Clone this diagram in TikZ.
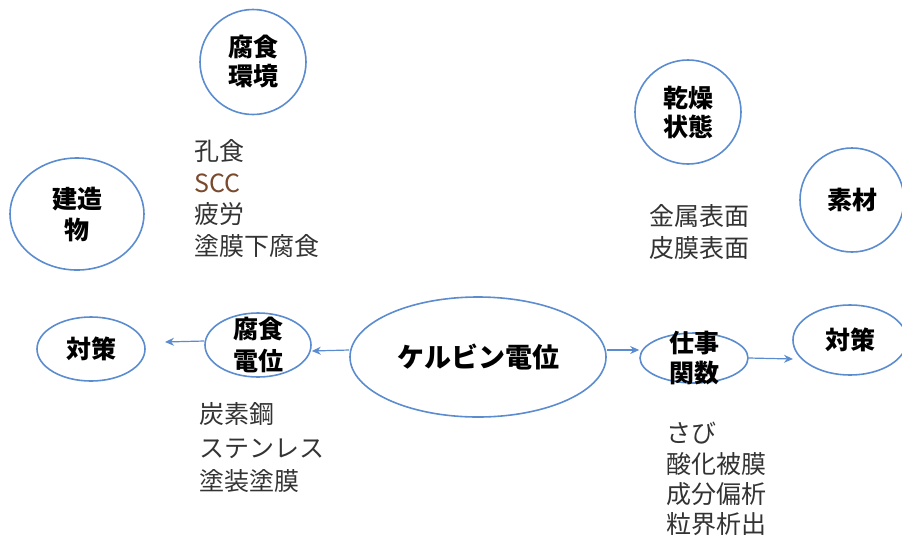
\documentclass[tikz,border=0pt]{standalone}
\usepackage{fontspec}
\setmainfont{Noto Sans CJK JP}
\usetikzlibrary{shapes.geometric,arrows.meta}
\definecolor{lineblue}{HTML}{5B8CCF}
\definecolor{listgray}{HTML}{333333}
\definecolor{sccbrown}{HTML}{7A4A2E}
\tikzset{
  ell/.style={draw=lineblue, line width=1.6pt, ellipse, inner sep=0pt},
  lab/.style={font=\fontsize{25}{29}\selectfont\bfseries, align=center, inner sep=0pt, text=black},
  lst/.style={font=\fontsize{25}{29}\selectfont, anchor=base west, inner sep=0pt, text=listgray},
  arr/.style={draw=lineblue, line width=1.2pt, -{Stealth[length=9pt,width=8pt]}},
}
\begin{document}
\begin{tikzpicture}[x=1pt,y=-1pt]
\useasboundingbox (0,0) rectangle (902,542);
% ellipses
\node[ell, minimum width=106pt, minimum height=105pt] (env) at (253,62) {};
\node[lab] at (env) {腐食\\環境};
\node[ell, minimum width=106pt, minimum height=104pt] (dry) at (688,112) {};
\node[lab] at (dry) {乾燥\\状態};
\node[ell, minimum width=104pt, minimum height=104pt] (mat) at (852,200) {};
\node[lab] at (mat) {素材};
\node[ell, minimum width=134pt, minimum height=112pt] (bld) at (77,214) {};
\node[lab, font=\fontsize{25}{31}\selectfont\bfseries] at (bld) {建造\\物};
\node[ell, minimum width=108pt, minimum height=64pt] (tL) at (91,349) {};
\node[lab] at (tL) {対策};
\node[ell, minimum width=106pt, minimum height=64pt] (kp) at (258,345) {};
\node[lab, font=\fontsize{25}{32}\selectfont\bfseries] at (kp) {腐食\\電位};
\node[ell, minimum width=256pt, minimum height=120pt] (kv) at (478,357) {};
\node[lab, font=\fontsize{27}{30}\selectfont\bfseries] at (kv) {ケルビン電位};
\node[ell, minimum width=108pt, minimum height=50pt] (sj) at (694,358) {};
\node[lab, font=\fontsize{25}{30}\selectfont\bfseries] at (sj) {仕事\\関数};
\node[ell, minimum width=114pt, minimum height=70pt] (tR) at (850,340) {};
\node[lab] at (tR) {対策};
% lists
\node[lst] (a1) at (194,160) {孔食};
\node[lst, text=sccbrown] (a2) at (194,192) {SCC};
\node[lst] (a3) at (194,223) {疲労};
\node[lst] (a4) at (194,255) {塗膜下腐食};
\node[lst] (b1) at (649,225) {金属表面};
\node[lst] (b2) at (649,257) {皮膜表面};
\node[lst] (c1) at (199,423) {炭素鋼};
\node[lst] (c2) at (199,457) {ステンレス};
\node[lst] (c3) at (199,490) {塗装塗膜};
\node[lst] (d1) at (666,442) {さび};
\node[lst] (d2) at (666,473) {酸化被膜};
\node[lst] (d3) at (666,503) {成分偏析};
\node[lst] (d4) at (666,533) {粒界析出};
% arrows
\coordinate (tLend) at (165,342);
\coordinate (tRend) at (793,359);
\draw[arr] (kv.west |- 0,350) -- (kp.east |- 0,351);
\draw[arr] (kp.west |- 0,341) -- (tLend);
\draw[arr] (kv.east |- 0,350) -- (sj.west |- 0,350);
\draw[arr] (sj.east) -- (tRend);
\end{tikzpicture}
\end{document}
